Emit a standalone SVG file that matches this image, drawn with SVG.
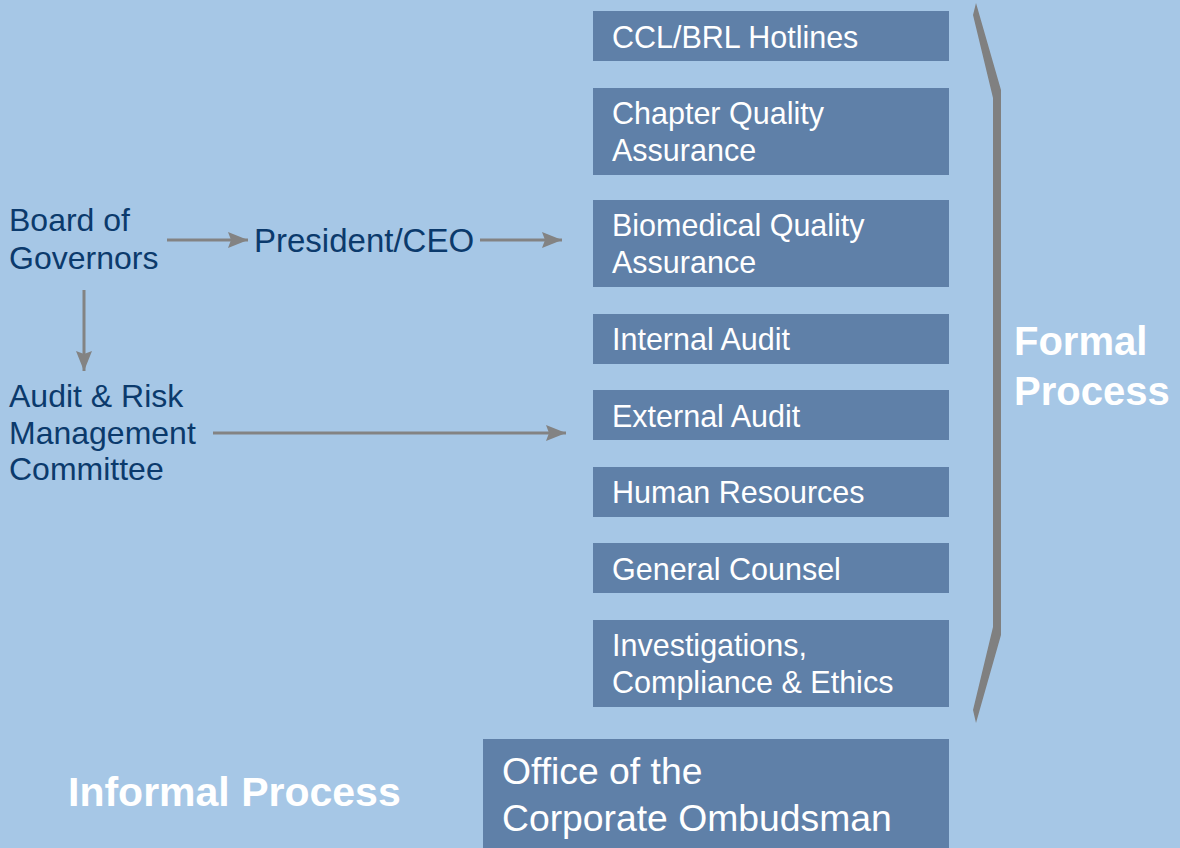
<svg xmlns="http://www.w3.org/2000/svg" width="1180" height="848" viewBox="0 0 1180 848">
<defs>
<style>
.box{fill:#5f80a8}
.bt{font-family:"Liberation Sans",Arial,sans-serif;font-size:30.5px;fill:#ffffff}
.lt{font-family:"Liberation Sans",Arial,sans-serif;font-size:32px;fill:#0b3a6c}
.hd{font-family:"Liberation Sans",Arial,sans-serif;font-size:40px;font-weight:bold;fill:#ffffff}
.om{font-family:"Liberation Sans",Arial,sans-serif;font-size:37.3px;fill:#ffffff}
.conn{stroke:#838383;stroke-width:3;fill:none}
</style>
<marker id="ah" viewBox="0 0 20 16" refX="20" refY="8" markerWidth="20" markerHeight="16" markerUnits="userSpaceOnUse" orient="auto">
<path d="M0,0 L20,8 L0,16 L3,8 Z" fill="#838383"/>
</marker>
</defs>
<rect x="0" y="0" width="1180" height="848" fill="#a6c7e6"/>

<g id="connectors">
<line class="conn" x1="167" y1="240" x2="248" y2="240" marker-end="url(#ah)"/>
<line class="conn" x1="480" y1="240" x2="562" y2="240" marker-end="url(#ah)"/>
<line class="conn" x1="84" y1="290" x2="84" y2="371" marker-end="url(#ah)"/>
<line class="conn" x1="213" y1="433" x2="566" y2="433" marker-end="url(#ah)"/>
</g>

<g id="board"><text class="lt" x="9" y="231">Board of</text><text class="lt" x="9" y="269">Governors</text></g>
<g id="president"><text class="lt" x="254" y="252" style="font-size:33px">President/CEO</text></g>
<g id="audit-committee"><text class="lt" x="9" y="407">Audit &amp; Risk</text><text class="lt" x="9" y="444">Management</text><text class="lt" x="9" y="480">Committee</text></g>

<g id="ccl"><rect class="box" x="593" y="11" width="356" height="50"/><text class="bt" x="612" y="48">CCL/BRL Hotlines</text></g>
<g id="chapter"><rect class="box" x="593" y="88" width="356" height="87"/><text class="bt" x="612" y="124">Chapter Quality</text><text class="bt" x="612" y="161">Assurance</text></g>
<g id="biomed"><rect class="box" x="593" y="200" width="356" height="87"/><text class="bt" x="612" y="236">Biomedical Quality</text><text class="bt" x="612" y="273">Assurance</text></g>
<g id="internal"><rect class="box" x="593" y="314" width="356" height="50"/><text class="bt" x="612" y="350">Internal Audit</text></g>
<g id="external"><rect class="box" x="593" y="390" width="356" height="50"/><text class="bt" x="612" y="427">External Audit</text></g>
<g id="hr"><rect class="box" x="593" y="467" width="356" height="50"/><text class="bt" x="612" y="503">Human Resources</text></g>
<g id="counsel"><rect class="box" x="593" y="543" width="356" height="50"/><text class="bt" x="612" y="580">General Counsel</text></g>
<g id="investigations"><rect class="box" x="593" y="620" width="356" height="87"/><text class="bt" x="612" y="656">Investigations,</text><text class="bt" x="612" y="693">Compliance &amp; Ethics</text></g>

<g id="bracket"><polygon points="976,3 1001,90 1001,635 976,723 973,710 993,627 993,98 973,15" fill="#808080"/></g>
<g id="formal"><text class="hd" x="1014" y="355">Formal</text><text class="hd" x="1014" y="405">Process</text></g>

<g id="informal"><text class="hd" x="68" y="806" style="font-size:41px">Informal Process</text></g>
<g id="ombudsman"><rect class="box" x="483" y="739" width="466" height="109"/><text class="om" x="502" y="784">Office of the</text><text class="om" x="502" y="831">Corporate Ombudsman</text></g>
</svg>
